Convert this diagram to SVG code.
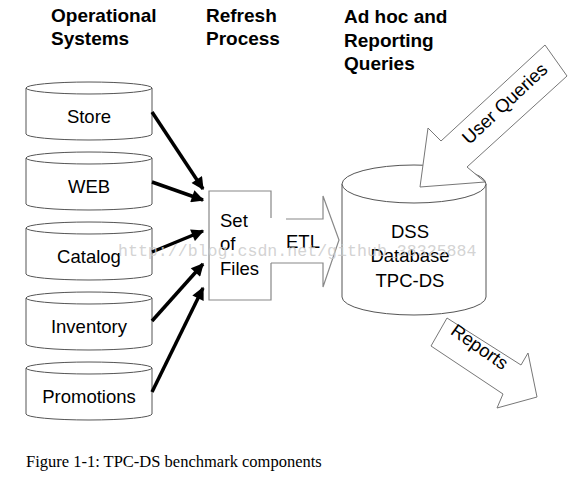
<svg xmlns="http://www.w3.org/2000/svg" width="577" height="484" viewBox="0 0 577 484">
<style>
.hdr{font-family:"Liberation Sans",Arial,sans-serif;font-weight:bold;font-size:19px;fill:#000}
.lbl{font-family:"Liberation Sans",Arial,sans-serif;font-size:18.5px;fill:#000}
.cyl{fill:#fff;stroke:#555;stroke-width:1}
.thin{fill:#fff;stroke:#777;stroke-width:1}
.box{fill:none;stroke:#888;stroke-width:1.2}
.conn{stroke:#000;stroke-width:3.5;fill:none}
.cap{font-family:"Liberation Serif","Times New Roman",serif;font-size:16.5px;fill:#000}
.wm{font-family:"Liberation Mono","Courier New",monospace;font-size:16.6px;fill:#c8c8c8;fill-opacity:0.8}
</style>
<defs>
<marker id="ah" viewBox="0 0 10 10" refX="9" refY="5" markerWidth="4.2" markerHeight="3.6" orient="auto" markerUnits="strokeWidth">
<path d="M0,0 L10,5 L0,10 Z" fill="#000"/>
</marker>
<g id="cylshape">
<path class="cyl" d="M26,6 V52 A63,6 0 0 0 152,52 V6"/>
<ellipse class="cyl" cx="89" cy="6" rx="63" ry="6"/>
</g>
</defs>
<rect width="577" height="484" fill="#fff"/>

<g id="headers">
<text class="hdr" x="51" y="22">Operational</text>
<text class="hdr" x="51" y="45">Systems</text>
<text class="hdr" x="206" y="22">Refresh</text>
<text class="hdr" x="206" y="45">Process</text>
<text class="hdr" x="344" y="23">Ad hoc and</text>
<text class="hdr" x="344" y="47">Reporting</text>
<text class="hdr" x="344" y="70">Queries</text>
</g>

<g id="store"><use href="#cylshape" y="82"/><text class="lbl" x="89" y="123" text-anchor="middle">Store</text></g>
<g id="web"><use href="#cylshape" y="152"/><text class="lbl" x="89" y="193" text-anchor="middle">WEB</text></g>
<g id="catalog"><use href="#cylshape" y="222"/><text class="lbl" x="89" y="263" text-anchor="middle">Catalog</text></g>
<g id="inventory"><use href="#cylshape" y="292"/><text class="lbl" x="89" y="333" text-anchor="middle">Inventory</text></g>
<g id="promotions"><use href="#cylshape" y="362"/><text class="lbl" x="89" y="403" text-anchor="middle">Promotions</text></g>

<g id="setoffiles">
<path class="box" d="M271,218 V191 H209 V300 H271 V263"/>
<text class="lbl" x="220" y="227">Set</text>
<text class="lbl" x="220" y="250">of</text>
<text class="lbl" x="220" y="275">Files</text>
</g>

<g id="etl">
<path class="box" d="M286,219 H323 V196 L339,240 L323,287 V263 H271"/>
<text class="lbl" x="286" y="248">ETL</text>
</g>

<g id="dss">
<path class="cyl" d="M342,184 V297 A72,18 0 0 0 486,297 V184"/>
<ellipse class="cyl" cx="414" cy="184" rx="72" ry="19"/>
<text class="lbl" x="410" y="238" text-anchor="middle">DSS</text>
<text class="lbl" x="410" y="262" text-anchor="middle">Database</text>
<text class="lbl" x="410" y="287" text-anchor="middle">TPC-DS</text>
</g>

<g id="userqueries">
<polygon class="thin" points="545,45 567,76 467,167 485,182 420,187 428,128 441,141"/>
<text class="lbl" x="0" y="0" text-anchor="middle" transform="translate(509,108) rotate(-43)">User Queries</text>
</g>

<g id="reports">
<polygon class="thin" points="447,318 431,346 503,394 497,408 537,397 528,353 521,365"/>
<text class="lbl" x="0" y="0" text-anchor="middle" transform="translate(476,352) rotate(35)">Reports</text>
</g>

<g id="connectors">
<line class="conn" x1="152" y1="112" x2="203" y2="189" marker-end="url(#ah)"/>
<line class="conn" x1="152" y1="182" x2="203" y2="200" marker-end="url(#ah)"/>
<line class="conn" x1="152" y1="252" x2="203" y2="231" marker-end="url(#ah)"/>
<line class="conn" x1="152" y1="321" x2="203" y2="264" marker-end="url(#ah)"/>
<line class="conn" x1="152" y1="392" x2="203" y2="288" marker-end="url(#ah)"/>
</g>

<text class="wm" x="118" y="256">http://blog.csdn.net/github_38325884</text>

<text class="cap" x="26" y="467">Figure 1-1: TPC-DS benchmark components</text>
</svg>
